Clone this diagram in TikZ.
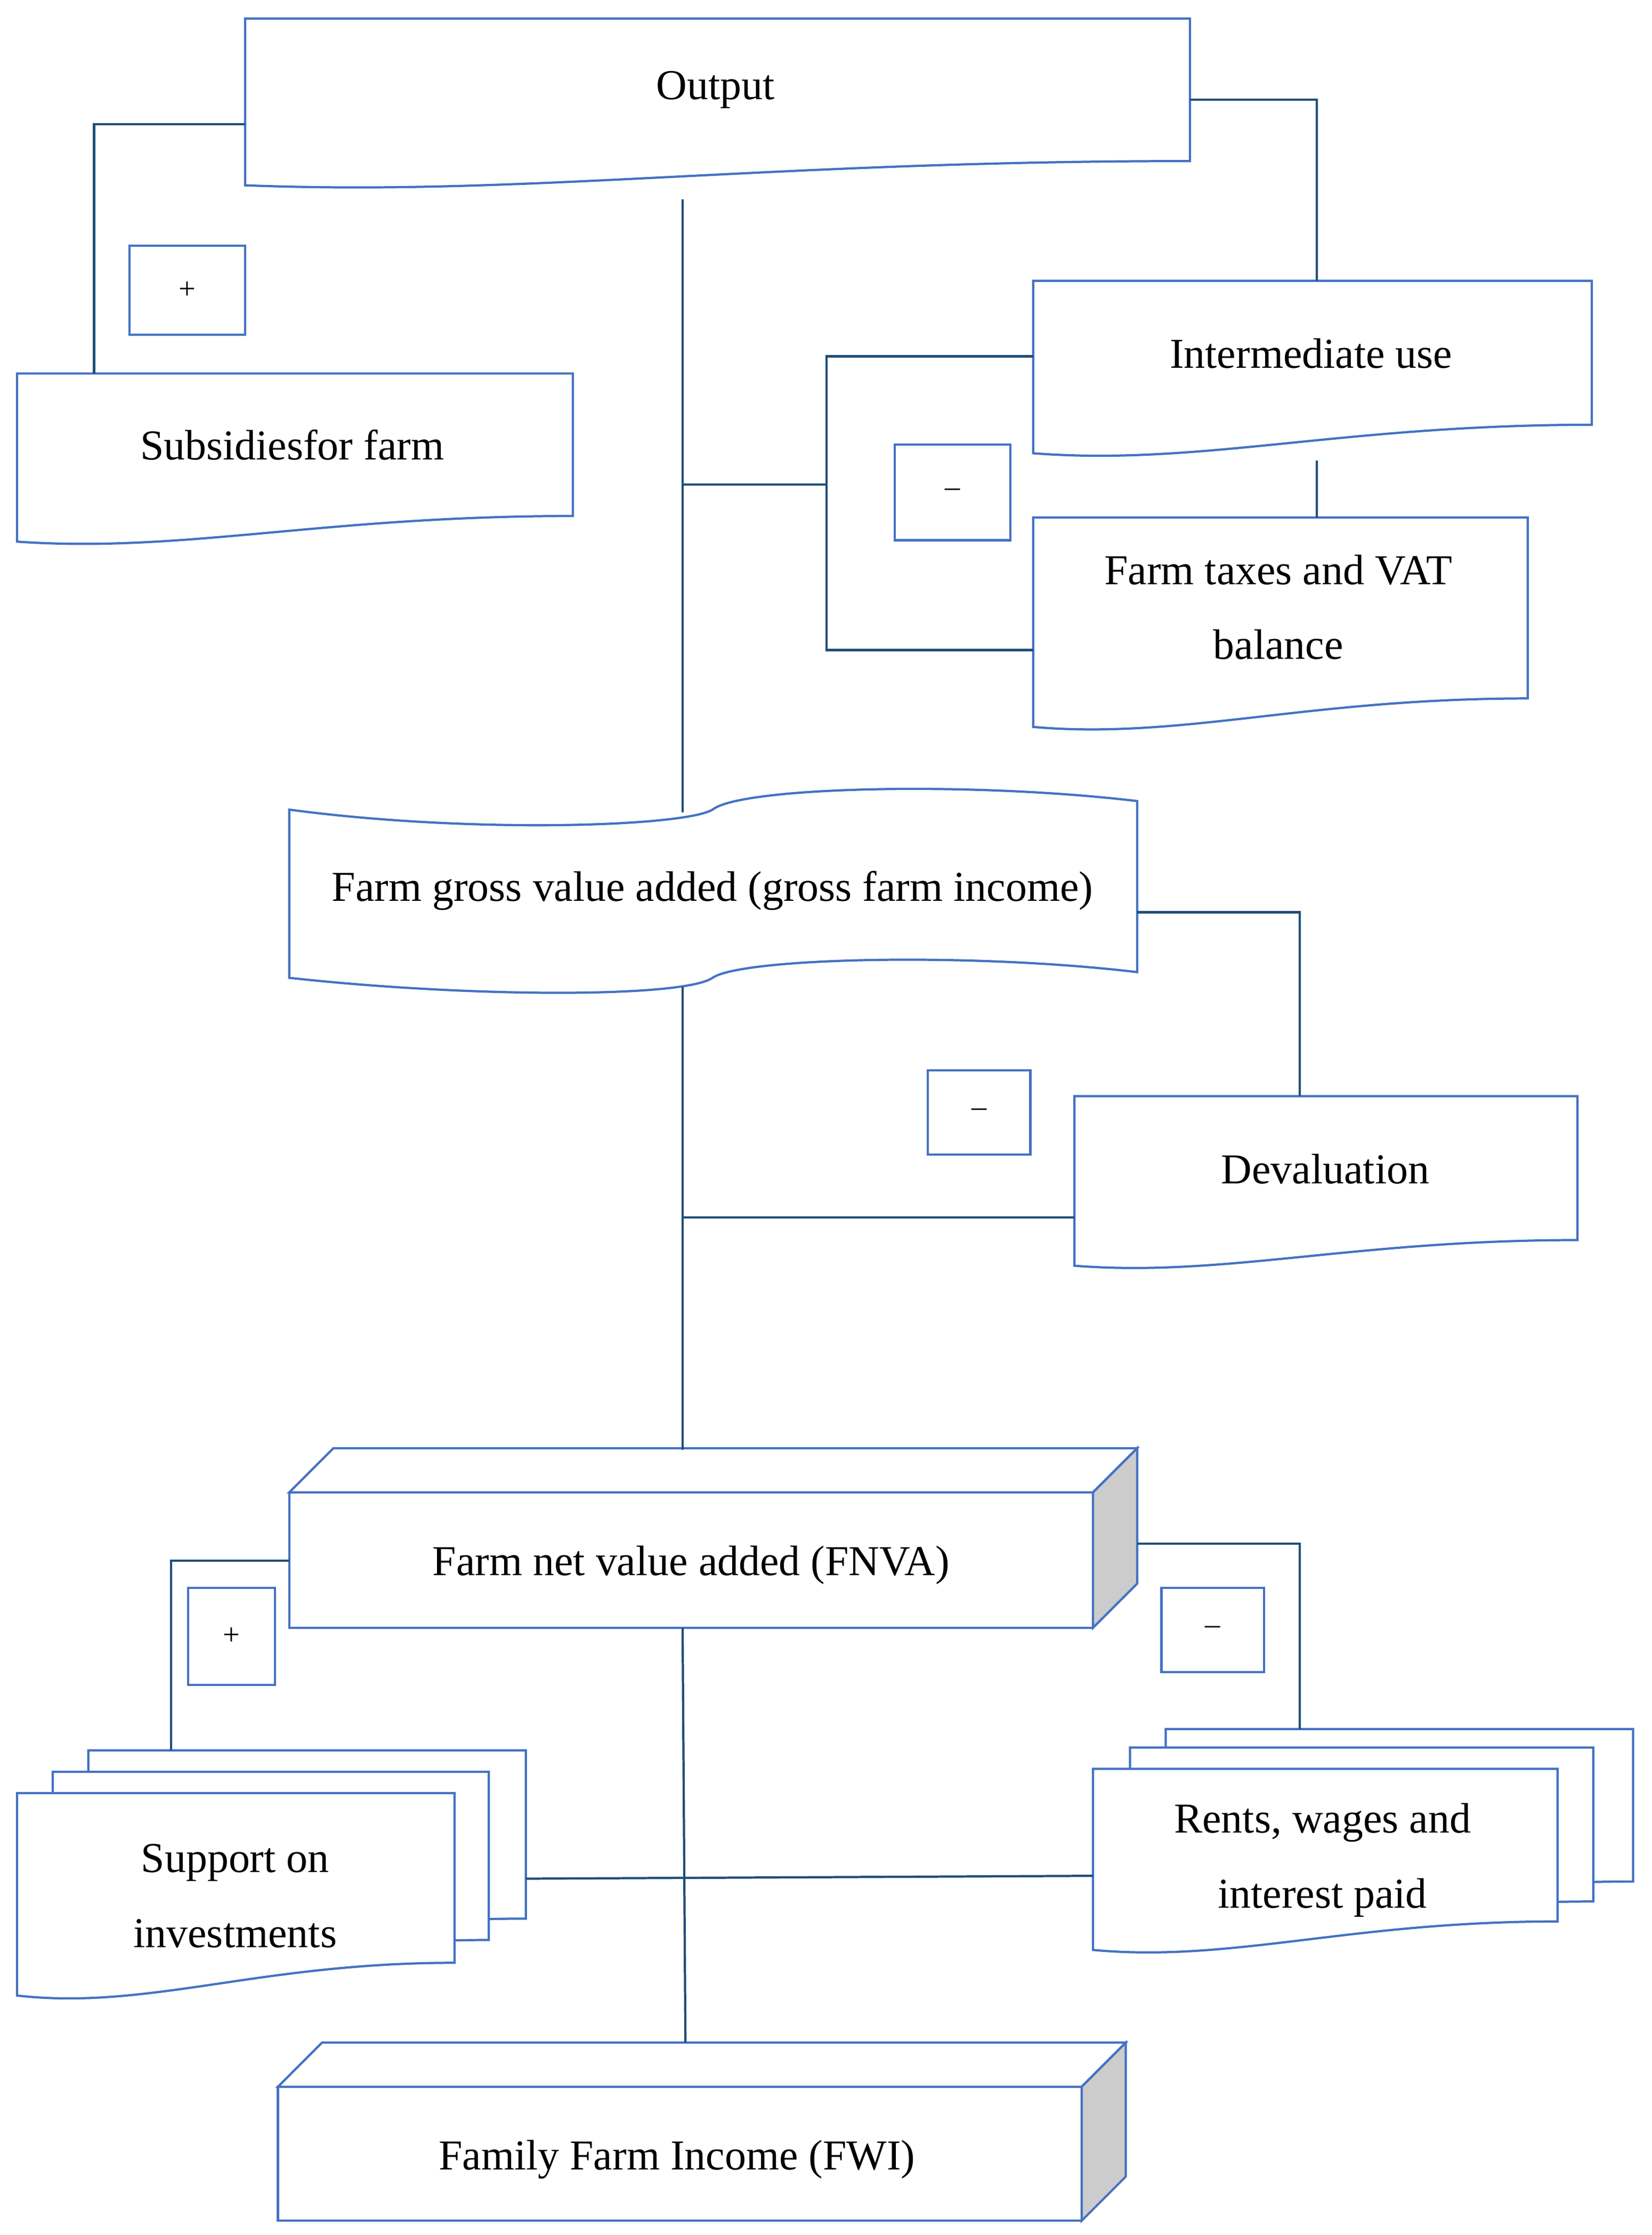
\documentclass[tikz,border=0pt]{standalone}
\usepackage{fontspec}
\setmainfont{Liberation Serif}
\usetikzlibrary{positioning}
\definecolor{shapeblue}{RGB}{68,114,196}
\definecolor{linkteal}{RGB}{31,78,121}
% document shape: x1, x2, top, right bottom, left bottom
\newcommand{\docshape}[5]{%
  \draw[doc_style] (#1,#3) -- (#2,#3) -- (#2,#4)
    .. controls ({#1+0.55*(#2-#1)},#4) and ({#1+0.3*(#2-#1)},{#5+0.45*(#5-#4)}) .. (#1,#5) -- cycle;}
% 3d box: x1, x2, top, bottom, depth
\newcommand{\boxshape}[5]{%
  \draw[doc_style] (#1,#3) rectangle (#2,#4);
  \draw[doc_style] (#1,#3) -- ({#1+#5},{#3-#5}) -- ({#2+#5},{#3-#5}) -- (#2,#3) -- cycle;
  \draw[doc_style, fill=gray!40] (#2,#3) -- ({#2+#5},{#3-#5}) -- ({#2+#5},{#4-#5}) -- (#2,#4) -- cycle;}
\begin{document}
\begin{tikzpicture}[x=0.02cm, y=-0.02cm,
    doc_style/.style={draw=shapeblue, fill=white, line width=0.9pt},
    sign_style/.style={draw=shapeblue, line width=0.9pt, minimum width=#1, minimum height=1.25cm, inner sep=0pt},
    link/.style={draw=linkteal, line width=0.9pt},
    label_style/.style={font=\fontsize{17}{20}\selectfont, align=center}]

  \useasboundingbox (0,0) rectangle (1159,1568);

  % boxes
  \docshape{172}{835}{13}{113}{130}
  \docshape{12}{402}{262}{362}{380}
  \docshape{725}{1117}{197}{298}{318}
  \docshape{725}{1072}{363}{490}{510}
  \docshape{754}{1107}{769}{870}{888}
  \draw[doc_style] (203,568) .. controls (330,585) and (480,580) .. (500,568)
    .. controls (520,552) and (680,548) .. (798,562) -- (798,682)
    .. controls (680,668) and (520,672) .. (500,686)
    .. controls (480,700) and (330,700) .. (203,686) -- cycle;
  \boxshape{203}{767}{1047}{1142}{31}
  \boxshape{195}{759}{1464}{1558}{31}
  \docshape{62}{369}{1228}{1346}{1366}
  \docshape{37}{343}{1243}{1361}{1383}
  \docshape{12}{319}{1258}{1377}{1400}
  \docshape{818}{1146}{1213}{1320}{1338}
  \docshape{793}{1118}{1226}{1334}{1352}
  \docshape{767}{1093}{1241}{1348}{1368}

  % texts
  \node[label_style] (output) at (502,63) {Output};
  \node[label_style] (subsidies) at (205,312) {Subsidiesfor farm};
  \node[label_style] (interm) at (920,248) {Intermediate use};
  \node[label_style] (taxes) at (897,426) {Farm taxes and VAT\\[10pt]balance};
  \node[label_style] (gva) at (500,625) {Farm gross value added (gross farm income)};
  \node[label_style] (deval) at (930,820) {Devaluation};
  \node[label_style] (fnva) at (485,1098) {Farm net value added (FNVA)};
  \node[label_style] (support) at (165,1330) {Support on\\[10pt]investments};
  \node[label_style] (rents) at (928,1305) {Rents, wages and\\[10pt]interest paid};
  \node[label_style] (fwi) at (475,1515) {Family Farm Income (FWI)};

  % signs
  \node[sign_style=1.62cm, font=\large] (plus1) at (131.5,203.5) {+};
  \node[sign_style=1.62cm, minimum height=1.34cm, font=\large] (minus1) at (668.5,345.5) {--};
  \node[sign_style=1.44cm, minimum height=1.18cm, font=\large] (minus2) at (687,780.5) {--};
  \node[sign_style=1.22cm, minimum height=1.36cm, font=\large] (plus2) at (162.5,1148) {+};
  \node[sign_style=1.44cm, minimum height=1.18cm, font=\large] (minus3) at (851,1143.5) {--};

  % connection points
  \coordinate (output-w) at (172,87);
  \coordinate (output-e) at (835,70);
  \coordinate (output-s) at (479,140);
  \coordinate (subsidies-n) at (66,262);
  \coordinate (interm-n) at (924,197);
  \coordinate (interm-w) at (725,250);
  \coordinate (interm-s) at (924,323);
  \coordinate (taxes-n) at (924,363);
  \coordinate (taxes-w) at (725,456);
  \coordinate (gva-n) at (479,570);
  \coordinate (gva-s) at (479,692);
  \coordinate (gva-e) at (798,640);
  \coordinate (deval-n) at (912,769);
  \coordinate (deval-w) at (754,854);
  \coordinate (fnva-n) at (479,1017);
  \coordinate (fnva-w) at (203,1095);
  \coordinate (fnva-e) at (798,1083);
  \coordinate (fnva-s) at (479,1142);
  \coordinate (support-n) at (120,1228);
  \coordinate (support-e) at (369,1318);
  \coordinate (rents-n) at (912,1213);
  \coordinate (rents-w) at (767,1316);
  \coordinate (fwi-n) at (481,1433);

  % connectors
  \draw[link] (output-w) -| (subsidies-n);
  \draw[link] (output-e) -| (interm-n);
  \draw[link] (output-s) -- (gva-n);
  \draw[link] (output-s |- 0,340) -- (580,340);
  \draw[link] (interm-w) -| (580,456) -- (taxes-w);
  \draw[link] (interm-s) -- (taxes-n);
  \draw[link] (gva-s) -- (fnva-n);
  \draw[link] (gva-s |- deval-w) -- (deval-w);
  \draw[link] (gva-e) -| (deval-n);
  \draw[link] (fnva-w) -| (support-n);
  \draw[link] (fnva-e) -| (rents-n);
  \draw[link] (fnva-s) -- (fwi-n);
  \draw[link] (support-e) -- (rents-w);
\end{tikzpicture}
\end{document}
